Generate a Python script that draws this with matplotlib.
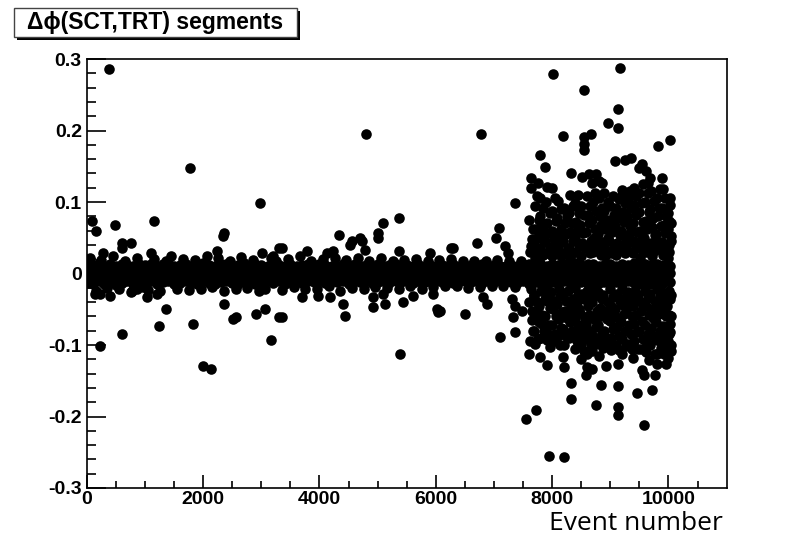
import matplotlib
matplotlib.use("Agg")
import matplotlib.pyplot as plt
from matplotlib.patches import Rectangle

# delta phi between SCT and TRT segments vs event number
# y values are in mrad (thousandths), converted to rad when plotted

# dense core band, three rows sharing the event positions
band_x = [20, 110, 210, 300, 400, 500, 610, 700, 800, 900,
          1010, 1100, 1200, 1310, 1400, 1500, 1600, 1700, 1810, 1900,
          2000, 2100, 2210, 2300, 2400, 2500, 2600, 2710, 2800, 2900,
          3000, 3110, 3200, 3300, 3400, 3500, 3610, 3700, 3800, 3900,
          4000, 4100, 4210, 4300, 4400, 4500, 4610, 4700, 4800, 4900,
          5000, 5100, 5200, 5310, 5400, 5500, 5600, 5700, 5810, 5900,
          6000, 6100, 6200, 6300, 6410, 6500, 6600, 6700, 6800, 6900,
          7000, 7100, 7210, 7300, 7400, 7500, 7600, 7700, 7800, 7910,
          8000, 8100, 8200, 8300, 8400, 8500, 8610, 8700, 8800, 8900,
          9000, 9100, 9200, 9310, 9400, 9500, 9600, 9700, 9810, 9900,
          10030]
band_hi = [14, 12, 15, 11, 13, 10, 14, 12, 11, 13,
           12, 14, 10, 13, 15, 11, 12, 14, 10, 13,
           15, 12, 11, 14, 13, 10, 12, 15, 11, 13,
           12, 10, 14, 12, 11, 13, 10, 12, 14, 11,
           13, 12, 10, 11, 14, 12, 13, 10, 12, 11,
           13, 10, 12, 14, 11, 12, 10, 13, 11, 12,
           10, 12, 11, 13, 10, 11, 12, 10, 13, 11,
           12, 10, 11, 12, 10, 13, 14, 12, 15, 11,
           13, 12, 14, 11, 15, 12, 13, 14, 11, 12,
           14, 11, 13, 12, 15, 11, 13, 12, 14, 12,
           11]
band_mid = [2, -1, 3, 0, -2, 1, -3, 2, 0, -1,
            1, -2, 3, -1, 0, 2, -3, 1, -1, 2,
            0, -2, 1, 3, -1, 0, 2, -2, 1, -3,
            2, 0, -1, 1, -2, 3, 0, -1, 2, -2,
            1, -3, 0, 2, -1, 1, -2, 0, 3, -1,
            0, 2, -1, 1, -3, 0, 2, -2, 1, 0,
            -1, 2, 0, -2, 1, -1, 3, 0, -2, 1,
            0, -1, 2, -2, 1, 0, -3, 2, -1, 1,
            3, -2, 0, 1, -1, 2, -3, 0, 1, -2,
            2, -1, 0, 3, -2, 1, -1, 2, 0, -3,
            1]
band_lo = [-13, -15, -11, -14, -12, -16, -13, -11, -14, -12,
           -13, -11, -15, -12, -10, -14, -13, -11, -12, -15,
           -11, -13, -14, -12, -10, -13, -15, -11, -12, -14,
           -12, -11, -13, -10, -14, -12, -11, -13, -10, -12,
           -11, -13, -10, -12, -11, -14, -10, -12, -11, -13,
           -12, -10, -13, -11, -12, -10, -13, -11, -12, -10,
           -11, -12, -10, -13, -11, -10, -12, -11, -13, -10,
           -12, -11, -10, -12, -13, -11, -14, -12, -13, -15,
           -12, -14, -11, -13, -15, -12, -14, -11, -13, -12,
           -14, -12, -15, -11, -13, -14, -12, -15, -11, -13,
           -12]

# second pair of rows, between the first ones
band_x2 = [70, 160, 260, 350, 450, 560, 650, 750, 850, 960,
           1050, 1150, 1260, 1350, 1450, 1550, 1660, 1750, 1850, 1950,
           2050, 2160, 2250, 2350, 2450, 2550, 2660, 2750, 2850, 2950,
           3060, 3150, 3250, 3350, 3450, 3560, 3650, 3750, 3850, 3950,
           4050, 4160, 4250, 4350, 4450, 4560, 4650, 4750, 4850, 4950,
           5050, 5150, 5260, 5350, 5450, 5550, 5650, 5760, 5850, 5950,
           6050, 6150, 6250, 6360, 6450, 6550, 6650, 6750, 6850, 6950,
           7050, 7160, 7250, 7350, 7450, 7550, 7650, 7750, 7860, 7950,
           8050, 8150, 8250, 8350, 8450, 8560, 8650, 8750, 8850, 8950,
           9050, 9150, 9260, 9350, 9450, 9550, 9650, 9760, 9850, 9960]
band_up = [7, 6, 8, 5, 7, 6, 8, 5, 6, 7,
           8, 6, 5, 7, 6, 8, 7, 5, 6, 8,
           6, 7, 5, 8, 6, 7, 5, 6, 8, 7,
           5, 7, 6, 8, 5, 6, 7, 8, 6, 5,
           7, 6, 8, 5, 7, 6, 5, 7, 8, 6,
           6, 5, 7, 6, 8, 5, 7, 6, 5, 7,
           6, 7, 5, 6, 7, 5, 6, 8, 5, 6,
           7, 5, 6, 7, 5, 6, 8, 7, 6, 5,
           7, 6, 8, 5, 7, 6, 8, 7, 5, 6,
           8, 6, 7, 5, 8, 6, 7, 5, 6, 8]
band_dn = [-6, -8, -5, -7, -6, -8, -5, -7, -6, -5,
           -7, -5, -8, -6, -7, -5, -6, -8, -7, -5,
           -6, -8, -7, -5, -6, -7, -8, -5, -6, -7,
           -8, -6, -5, -7, -6, -8, -5, -6, -7, -8,
           -5, -7, -6, -5, -8, -6, -7, -5, -6, -7,
           -6, -7, -5, -8, -6, -5, -7, -6, -8, -5,
           -7, -5, -6, -7, -5, -6, -7, -5, -6, -7,
           -5, -6, -7, -5, -6, -8, -5, -7, -6, -8,
           -6, -8, -5, -7, -6, -8, -7, -5, -6, -7,
           -8, -5, -7, -6, -8, -5, -6, -7, -8, -6]

# points on the rim of the band
edge_x = [60, 160, 250, 350, 460, 560, 660, 760, 860, 960,
          1050, 1150, 1260, 1360, 1450, 1560, 1660, 1760, 1860, 1960,
          2060, 2160, 2260, 2360, 2460, 2560, 2660, 2760, 2860, 2960,
          3060, 3160, 3260, 3360, 3460, 3560, 3660, 3760, 3860, 3960,
          4060, 4160, 4260, 4360, 4460, 4560, 4660, 4760, 4860, 4960,
          5060, 5160, 5260, 5360, 5460, 5560, 5660, 5760, 5860, 5960,
          6060, 6160, 6260, 6360, 6460, 6560, 6660, 6760, 6860, 6960,
          7060, 7160, 7260, 7360, 7460]
edge_y = [22, -24, 19, -20, 25, -22, 18, -26, 21, -19,
          -23, 20, -25, 18, 24, -21, 20, -23, 19, -22,
          24, -19, 21, -25, 18, -22, 23, -20, 19, -24,
          -21, 22, 18, -23, 20, -19, 24, -21, 18, -22,
          20, -18, 22, -24, 19, -20, 21, -22, 18, -19,
          21, -20, 18, -22, 19, -18, 20, -21, 18, -19,
          19, -18, 20, -17, 18, -20, 17, -19, 18, -17,
          19, -18, 17, -19, 18]

# outliers before the wide region
out_x = [385, 1775, 2975, 85, 160, 485, 1155, 605, 605, 760,
         280, 2355, 2340, 1105, 2235, 3010, 3200, 3300, 4800, 5375,
         5100, 5000, 5000, 4330, 4555, 4520, 4690, 4725, 5375, 3355,
         3785, 4125, 4230, 4775, 5895, 6270, 6775, 7360, 7080, 7030,
         6290, 6700, 7185, 7235,
         145, 230, 400, 780, 865, 1035, 1210, 1365, 1245, 605,
         230, 1825, 2000, 2135, 2355, 2515, 2565, 2910, 3065, 3165,
         3305, 3700, 3975, 4180, 4400, 4435, 3355, 4915, 4915, 5090,
         5120, 5430, 5380, 6015, 6030, 6495, 5600, 5945, 6805, 6875,
         7305, 7355, 7475, 7320, 7100, 7355, 6070]
out_y = [286, 147, 99, 74, 59, 68, 73, 43, 35, 42,
         28, 56, 52, 29, 32, 29, 25, 35, 195, 78,
         70, 56, 50, 54, 46, 40, 50, 46, 32, 35,
         32, 29, 32, 33, 29, 35, 195, 98, 63, 49,
         35, 42, 38, 29,
         -28, -28, -32, -24, -21, -33, -28, -49, -74, -85,
         -102, -70, -130, -134, -43, -64, -61, -57, -49, -93,
         -61, -33, -31, -33, -42, -60, -61, -33, -47, -28,
         -42, -40, -112, -49, -54, -56, -31, -28, -33, -42,
         -35, -46, -52, -61, -89, -82, -52]

# wide region after event ~7600, first layer
cluster_x = [7630, 7605, 7650, 7615, 7640, 7600, 7660, 7625,
             7700, 7720, 7685, 7710, 7695, 7730, 7690,
             7800, 7785, 7820, 7795, 7810, 7780, 7825, 7805,
             7900, 7915, 7885, 7920, 7895, 7910, 7880, 7925,
             8000, 7990, 8020, 8005, 7985, 8015, 8000, 8025,
             8100, 8085, 8115, 8095, 8110, 8080, 8120, 8100,
             8200, 8215, 8185, 8210, 8195, 8220, 8190, 8205,
             8300, 8285, 8315, 8295, 8310, 8280, 8320, 8300, 8290,
             8400, 8415, 8385, 8410, 8395, 8420, 8390, 8405, 8400,
             8500, 8485, 8520, 8495, 8510, 8480, 8515, 8500, 8490,
             8600, 8615, 8585, 8610, 8595, 8620, 8590, 8605, 8600,
             8700, 8685, 8715, 8695, 8710, 8680, 8720, 8700, 8690,
             8800, 8815, 8785, 8810, 8795, 8820, 8790, 8805, 8800,
             8900, 8885, 8915, 8895, 8910, 8880, 8920, 8900,
             9000, 9015, 8985, 9010, 8995, 9020, 8990, 9005,
             9100, 9085, 9115, 9095, 9110, 9080, 9120, 9100,
             9200, 9215, 9185, 9210, 9195, 9220, 9190, 9205, 9200,
             9300, 9285, 9315, 9295, 9310, 9280, 9320, 9300,
             9400, 9415, 9385, 9410, 9395, 9420, 9390, 9405, 9400, 9385,
             9500, 9485, 9515, 9495, 9510, 9480, 9520, 9500,
             9600, 9615, 9585, 9610, 9595, 9620, 9590, 9605,
             9700, 9685, 9715, 9695, 9710, 9680, 9720, 9700, 9690,
             9800, 9815, 9785, 9810, 9795, 9820, 9790, 9805, 9800,
             9900, 9885, 9915, 9895, 9910, 9880, 9920, 9900, 9890,
             10000, 9985, 10015, 9995, 10010, 9980, 10020, 10000, 9990,
             10040, 10050, 10045, 10040, 10050]
cluster_y = [120, 75, 48, 30, -22, -40, -65, -95,
             95, 62, 40, 22, -30, -55, -80,
             105, 80, 55, 35, -25, -45, -70, -90,
             100, 70, 45, 28, -20, -38, -60, -85,
             88, 60, 38, 24, -26, -50, -72, -95,
             102, 78, 52, 33, -22, -42, -64, -88,
             92, 70, 45, 28, -30, -52, -78, -100,
             110, 85, 58, 36, 22, -25, -47, -68, -90,
             98, 72, 50, 30, -20, -40, -62, -85, -105,
             95, 68, 42, 25, -28, -55, -75, -98, -120,
             108, 82, 58, 35, -24, -46, -70, -92, -112,
             100, 75, 50, 30, -22, -40, -63, -88, -108,
             105, 80, 55, 32, -26, -48, -72, -95, -115,
             112, 88, 62, 40, 24, -30, -52, -80,
             95, 70, 45, 28, -22, -45, -66, -90,
             92, 66, 42, 26, -28, -50, -75, -100,
             110, 86, 60, 38, -22, -44, -68, -92, -112,
             104, 80, 55, 33, -26, -48, -72, -98,
             120, 96, 70, 46, 28, -24, -46, -70, -95, -118,
             112, 86, 60, 38, 22, -30, -52, -80,
             100, 74, 50, 30, -24, -46, -72, -110,
             115, 90, 65, 42, 25, -28, -50, -76, -100,
             105, 80, 55, 34, -22, -44, -68, -93, -112,
             118, 92, 68, 44, 26, -26, -48, -74, -100,
             85, 62, 40, 22, -24, -46, -70, -95, -118,
             70, 45, -30, -60, -100]

# wide region, second layer filling the gaps
cluster2_x = [7665, 7640, 7680, 7655, 7670,
              7745, 7770, 7735, 7760, 7740, 7775, 7755,
              7850, 7835, 7865, 7845, 7870, 7830, 7855,
              7955, 7940, 7970, 7945, 7965, 7950,
              8050, 8065, 8035, 8055, 8040, 8070, 8045,
              8145, 8160, 8135, 8155, 8140, 8165, 8150, 8130,
              8250, 8235, 8265, 8245, 8260, 8240,
              8355, 8340, 8365, 8345, 8360, 8335, 8350,
              8445, 8460, 8435, 8455, 8440, 8465, 8450, 8430,
              8550, 8535, 8565, 8545, 8560, 8540, 8555,
              8655, 8640, 8665, 8645, 8660, 8635, 8650, 8670,
              8745, 8760, 8735, 8755, 8740, 8765, 8750, 8730,
              8850, 8835, 8865, 8845, 8860, 8840, 8855, 8870,
              8955, 8940, 8965, 8945, 8960, 8935, 8950,
              9045, 9060, 9035, 9055, 9040, 9065, 9050, 9030,
              9150, 9135, 9165, 9145, 9160, 9140, 9155,
              9255, 9240, 9265, 9245, 9260, 9235, 9250, 9270,
              9345, 9360, 9335, 9355, 9340, 9365, 9350,
              9450, 9435, 9465, 9445, 9460, 9440, 9455, 9470,
              9555, 9540, 9565, 9545, 9560, 9535, 9550, 9570,
              9645, 9660, 9635, 9655, 9640, 9665, 9650, 9630,
              9750, 9735, 9765, 9745, 9760, 9740, 9755, 9770,
              9855, 9840, 9865, 9845, 9860, 9835, 9850, 9870,
              9945, 9960, 9935, 9955, 9940, 9965, 9950, 9930,
              10025, 10010, 10035, 10015, 10030, 10005, 10020, 10040]
cluster2_y = [62, 38, -32, -52, -80,
              108, 75, 50, 30, -40, -68, -92,
              92, 66, 44, 26, -35, -58, -80,
              85, 56, 36, -30, -48, -72,
              105, 74, 48, 30, -38, -60, -84,
              90, 62, 42, 24, -32, -54, -76, -100,
              80, 55, 35, -38, -62, -88,
              95, 70, 46, 28, -35, -56, -80,
              110, 84, 60, 40, -30, -50, -72, -95,
              82, 56, 36, -36, -64, -86, -108,
              95, 70, 46, 28, -34, -58, -80, -100,
              112, 88, 62, 40, -32, -52, -75, -97,
              92, 68, 44, 26, -36, -60, -84, -104,
              100, 75, 50, 32, -40, -64, -90,
              108, 82, 58, 36, -33, -56, -78, -100,
              104, 78, 54, 34, -38, -62, -88,
              98, 72, 48, 28, -34, -56, -80, -102,
              116, 92, 66, 44, -36, -60, -84,
              108, 82, 58, 36, -35, -58, -82, -106,
              125, 98, 72, 48, 30, -40, -66, -92,
              112, 86, 62, 40, -34, -58, -84, -98,
              102, 78, 54, 32, -38, -62, -88, -112,
              118, 92, 66, 44, -32, -56, -80, -104,
              105, 80, 56, 34, -36, -60, -86, -112,
              96, 74, 52, 30, -36, -58, -82, -108]

# sparse points around the wide region
spread_x = [8020, 9170, 8540, 9135, 8965, 9135, 8195, 8555, 8660, 8555,
            8555, 9820, 10030, 7800, 7885, 9085, 9255, 9360, 9545, 9495,
            9615, 9685, 9650, 9890, 7630, 8330, 8520, 8640, 8760, 8810,
            8690, 8860, 7750, 7920, 8005, 10030, 9205,
            7545, 7730, 7940, 8210, 8330, 8330, 8760, 8845, 9135, 9135,
            9135, 9460, 9720, 9580, 8930, 9135, 8605, 8690, 8590, 9545,
            9580, 9770, 9665, 9805, 9960, 8210, 8180, 7955, 7905, 7610,
            7700, 7785, 7905, 8760, 8930, 9015, 9155, 9375, 9530, 9615,
            9890, 9975, 10010]
spread_y = [279, 287, 257, 230, 211, 204, 193, 191, 195, 181,
            173, 178, 187, 166, 149, 158, 159, 162, 153, 148,
            144, 134, 127, 133, 134, 141, 135, 139, 139, 130,
            127, 126, 126, 121, 120, 106, 117,
            -204, -191, -255, -257, -153, -176, -184, -156, -158, -187,
            -198, -167, -163, -212, -130, -126, -131, -133, -142, -135,
            -142, -142, -121, -126, -126, -131, -117, -103, -128, -112,
            -98, -117, -93, -98, -96, -107, -107, -105, -105, -93,
            -93, -107, -84]

x_ticks = [0, 2000, 4000, 6000, 8000, 10000]
x_tick_labels = ["0", "2000", "4000", "6000", "8000", "10000"]
y_ticks = [-0.3, -0.2, -0.1, 0.0, 0.1, 0.2, 0.3]
y_tick_labels = ["-0.3", "-0.2", "-0.1", "0", "0.1", "0.2", "0.3"]

fig = plt.figure(figsize=(7.92, 5.4), dpi=100)
ax = fig.add_axes([0.1095, 0.0963, 0.808, 0.7944])

dot = dict(s=58, c="black", marker="o", linewidths=0)
for ys in (band_hi, band_mid, band_lo):
    ax.scatter(band_x, [v / 1000 for v in ys], **dot)
for ys in (band_up, band_dn):
    ax.scatter(band_x2, [v / 1000 for v in ys], **dot)
ax.scatter(edge_x, [v / 1000 for v in edge_y], **dot)
ax.scatter(out_x, [v / 1000 for v in out_y], **dot)
ax.scatter(cluster_x, [v / 1000 for v in cluster_y], **dot)
ax.scatter(cluster2_x, [v / 1000 for v in cluster2_y], **dot)
ax.scatter(spread_x, [v / 1000 for v in spread_y], **dot)

ax.set_xlim(0, 11000)
ax.set_ylim(-0.3, 0.3)
ax.set_xticks(x_ticks)
ax.set_xticklabels(x_tick_labels)
ax.set_yticks(y_ticks)
ax.set_yticklabels(y_tick_labels)
ax.set_xticks([v for v in range(500, 11000, 500) if v % 2000], minor=True)
ax.set_yticks([-0.28, -0.26, -0.24, -0.22, -0.18, -0.16, -0.14, -0.12,
               -0.08, -0.06, -0.04, -0.02, 0.02, 0.04, 0.06, 0.08,
               0.12, 0.14, 0.16, 0.18, 0.22, 0.24, 0.26, 0.28], minor=True)

ax.tick_params(axis="x", which="major", direction="in", length=9.4, width=1.2, pad=2.5)
ax.tick_params(axis="x", which="minor", direction="in", length=4.7, width=1.2)
ax.tick_params(axis="y", which="major", direction="in", length=13.5, width=1.2, pad=3.5)
ax.tick_params(axis="y", which="minor", direction="in", length=6.8, width=1.2)
for lab in ax.get_xticklabels() + ax.get_yticklabels():
    lab.set_fontfamily("Liberation Sans")
    lab.set_fontweight("bold")
    lab.set_fontsize(14)
for sp in ax.spines.values():
    sp.set_linewidth(1.2)

fig.text(0.913, 0.019, "Event number", ha="right", va="baseline",
         fontsize=19, family="Open Sans")

# title pave with ROOT-like shadow
fig.add_artist(Rectangle((0.0215, 0.9260), 0.357, 0.0537, transform=fig.transFigure,
                         facecolor="black", edgecolor="none"))
fig.add_artist(Rectangle((0.0177, 0.9315), 0.357, 0.0537, transform=fig.transFigure,
                         facecolor="white", edgecolor="#444444", linewidth=1))
fig.text(0.1963, 0.9575, "\u0394\u03d5(SCT,TRT) segments", ha="center", va="center",
         fontsize=16.5, fontweight="bold", family=["Liberation Sans", "DejaVu Sans"])

fig.savefig("out.png", dpi=100)
